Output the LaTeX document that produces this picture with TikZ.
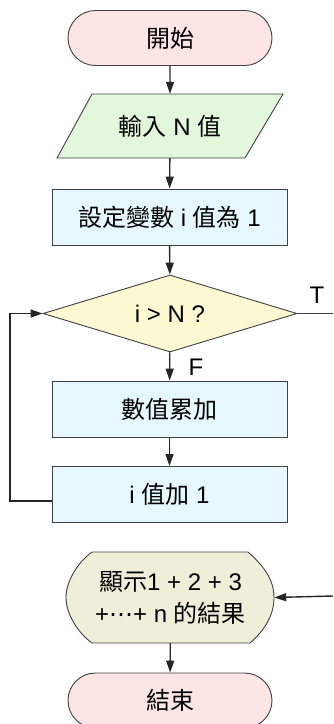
\documentclass[tikz,border=0pt]{standalone}
\usepackage{fontspec}
\setmainfont{Liberation Sans}
\newfontfamily\cjk{Noto Sans CJK TC}
\newfontfamily\sym{DejaVu Sans}
\usetikzlibrary{arrows.meta,shapes.geometric,shapes.misc,backgrounds}
\definecolor{termfill}{HTML}{FDE5E6}
\definecolor{iofill}{HTML}{E3F7DD}
\definecolor{procfill}{HTML}{E6F8FE}
\definecolor{decfill}{HTML}{FCF9D2}
\definecolor{dispfill}{HTML}{EFEFD9}
\definecolor{edge}{HTML}{404040}
\tikzset{
  base/.style={font=\fontsize{24}{30}\selectfont, inner sep=0pt, line width=0.9pt, draw=edge},
  term/.style={base, rounded rectangle, fill=termfill, minimum width=204pt, minimum height=55pt},
  ioanchor/.style={font=\fontsize{24}{30}\selectfont, inner sep=0pt, minimum width=191pt, minimum height=64pt},
  proc/.style={base, rectangle, fill=procfill, minimum width=235pt, minimum height=56pt},
  dec/.style={base, diamond, aspect=3.3, fill=decfill, minimum width=254pt, minimum height=77pt},
  dispanchor/.style={font=\fontsize{24}{32}\selectfont, inner sep=0pt, align=center, minimum width=207pt, minimum height=91pt},
  shapeline/.style={line width=0.9pt, draw=edge},
  lbl/.style={font=\fontsize{24}{28}\selectfont, inner sep=0pt},
  arr/.style={line width=1.4pt, draw=black!85, -{Triangle[length=12pt,width=8pt]}},
  ln/.style={line width=1.4pt, draw=black!75},
}
\begin{document}
\begin{tikzpicture}[x=1pt,y=-1pt]
\useasboundingbox (0,0) rectangle (333,724);
\node[term] (start) at (170,38) {\cjk 開始};
\node[ioanchor] (in) at (170,126) {{\cjk 輸入} N {\cjk 值}};
\node[proc] (init) at (169.5,217) {{\cjk 設定變數} i {\cjk 值為} 1};
\node[dec] (dec) at (170,313.5) {i > N ?};
\node[proc] (acc) at (169.5,409) {\cjk 數值累加};
\node[proc] (inc) at (169.5,494.5) {i {\cjk 值加} 1};
\node[dispanchor] (disp) at (170.5,597.5) {{\cjk 顯示}1 + 2 + 3\\+{\sym ⋯}+ n {\cjk 的結果}};
\node[term] (end) at (170,700.5) {\cjk 結束};
\node[lbl] (tl) at (317,295) {T};
\node[lbl] (fl) at (196,367) {F};
\coordinate (tout) at (333,313.5);
\coordinate (lp) at (10,313.5);
\coordinate (rin) at (333,596);
\begin{scope}[on background layer]
  \draw[shapeline, fill=iofill] (92,94) -- (283,94) -- (245,158) -- (57,158) -- cycle;
  \draw[shapeline, fill=dispfill] (92,552) -- (248,552)
    .. controls (264,566) and (274,580) .. (274,597.5)
    .. controls (274,615) and (265,630) .. (250,643)
    -- (92,643)
    .. controls (78,633) and (66,614) .. (66,597.5)
    .. controls (66,581) and (78,562) .. (92,552) -- cycle;
\end{scope}
\draw[arr] (start) -- (in);
\draw[arr] (in) -- (init);
\draw[arr] (init) -- (dec);
\draw[arr] (dec) -- (acc);
\draw[arr] (acc) -- (inc);
\draw[arr] (disp) -- (end);
\draw[ln] (dec.east) -- (tout);
\draw[arr] ([yshift=-6.5pt]inc.west) -| (lp) -- (dec.west);
\draw[arr] (rin) -- (disp.east);
\end{tikzpicture}
\end{document}
